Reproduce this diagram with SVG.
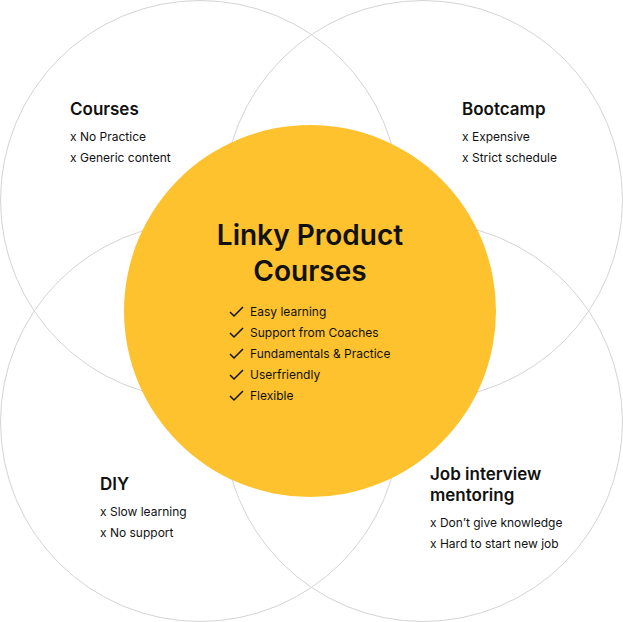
<svg xmlns="http://www.w3.org/2000/svg" width="623" height="622" viewBox="0 0 623 622">
<style>
.c{fill:none;stroke:#d4d4d4;stroke-width:1}
text{font-family:Inter,"Open Sans",sans-serif;fill:#111}
.h{font-size:17px;font-weight:600}
.t{font-size:12px}
.ti{font-size:28px;font-weight:600}
.ck{fill:none;stroke:#111;stroke-width:1.5}
</style>
<rect width="623" height="622" fill="#fff"/>
<g id="circles">
<circle class="c" cx="200" cy="200" r="199.5"/>
<circle class="c" cx="423" cy="200" r="199.5"/>
<circle class="c" cx="200" cy="422" r="199.5"/>
<circle class="c" cx="423" cy="422" r="199.5"/>
</g>
<g id="courses"><text class="h" x="70" y="115">Courses</text>
<text class="t" x="70" y="141">x  No Practice</text><text class="t" x="70" y="162">x  Generic content</text></g>
<g id="bootcamp"><text class="h" x="462" y="115">Bootcamp</text>
<text class="t" x="462" y="141">x  Expensive</text><text class="t" x="462" y="162">x  Strict schedule</text></g>
<g id="diy"><text class="h" x="100" y="490">DIY</text>
<text class="t" x="100" y="516">x  Slow learning</text><text class="t" x="100" y="537">x  No support</text></g>
<g id="job"><text class="h" x="430" y="480">Job interview</text><text class="h" x="430" y="501">mentoring</text>
<text class="t" x="430" y="527">x  Don’t give knowledge</text><text class="t" x="430" y="548">x  Hard to start new job</text></g>
<g id="linky">
<circle cx="310" cy="311" r="186" fill="#fdc22d"/>
<text class="ti" x="310" y="245" text-anchor="middle">Linky Product</text>
<text class="ti" x="310" y="281" text-anchor="middle">Courses</text>
<g class="t">
<text class="t" x="250" y="316">Easy learning</text>
<text class="t" x="250" y="337">Support from Coaches</text>
<text class="t" x="250" y="358">Fundamentals &amp; Practice</text>
<text class="t" x="250" y="379">Userfriendly</text>
<text class="t" x="250" y="400">Flexible</text>
</g>
<path class="ck" d="M230 312l4 4 9-9M230 333l4 4 9-9M230 354l4 4 9-9M230 375l4 4 9-9M230 396l4 4 9-9"/>
</g>
</svg>
